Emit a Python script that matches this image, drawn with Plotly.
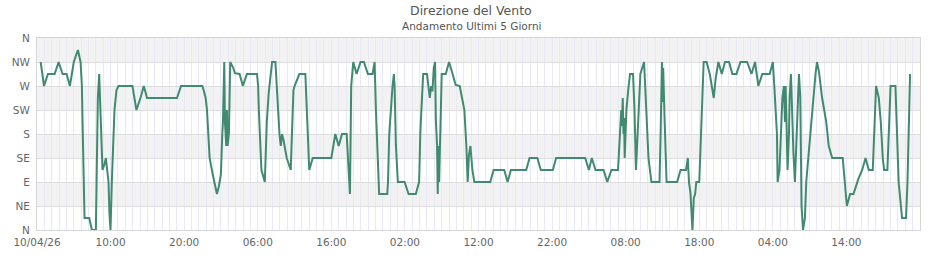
import pandas as pd
import plotly.graph_objects as go

# ---- data (hours since 10/04/26 00:00, wind direction in degrees) ----
ore = [
    0.50, 0.95, 1.49, 2.40, 2.94, 3.48, 4.02, 4.47, 5.00, 5.56, 5.92, 6.10, 6.19, 6.28, 6.37, 6.46,
    7.10, 7.46, 8.00, 8.09, 8.27, 8.45, 8.63, 8.81, 8.90, 9.18, 9.36, 9.54, 9.72, 9.85, 9.99,
    10.17, 10.40, 10.53, 10.80, 11.07, 12.97, 13.51, 14.06, 14.51, 14.96, 19.03, 19.57, 22.47,
    22.65, 22.92, 23.10, 23.28, 23.46, 23.90, 24.45, 24.72, 24.99, 25.18, 25.27, 25.45, 25.54,
    25.72, 25.81, 25.90, 26.08, 26.26, 26.67, 26.90, 27.53, 27.98, 28.52, 29.90, 30.05, 30.15,
    30.30, 30.50, 30.96, 31.23, 31.50, 31.77, 31.95, 32.40, 32.70, 32.95, 33.13, 33.30, 33.50,
    33.94, 34.48, 34.66, 34.85, 35.00, 35.66, 36.47, 36.65, 36.83, 37.00, 37.47, 40.00, 40.27,
    40.54, 41.00, 41.45, 42.08, 42.35, 42.53, 42.70, 42.98, 43.43, 43.97, 44.43, 44.97, 45.60,
    45.88, 46.06, 46.24, 46.42, 46.50, 47.60, 47.70, 47.87, 48.05, 48.32, 48.50, 48.60, 48.77,
    49.04, 49.95, 50.50, 51.48, 51.93, 52.10, 52.30, 52.48, 53.00, 53.38, 53.56, 53.74, 53.92,
    54.10, 54.20, 54.37, 54.46, 54.55, 54.65, 54.83, 55.00, 55.55, 55.73, 56.00, 56.37, 56.90,
    57.45, 57.72, 58.08, 58.35, 58.53, 58.70, 58.90, 59.17, 59.43, 61.60, 62.05, 63.50, 63.95,
    64.40, 66.48, 66.94, 68.00, 68.47, 70.10, 70.55, 74.50, 75.00, 75.40, 75.90, 77.00, 77.50,
    78.06, 78.96, 79.20, 79.40, 79.50, 79.60, 79.70, 79.78, 79.87, 80.10, 80.40, 80.60, 81.00,
    81.20, 81.40, 81.60, 81.85, 82.00, 82.50, 82.85, 83.10, 83.50, 84.60, 84.75, 84.93, 85.00,
    85.10, 85.30, 85.56, 87.00, 87.46, 88.20, 88.45, 88.60, 88.80, 89.08, 89.26, 89.44, 89.60,
    90.00, 90.10, 90.25, 90.44, 90.60, 91.00, 91.43, 91.97, 92.24, 92.60, 93.06, 93.50, 94.05,
    94.50, 95.05, 95.60, 96.50, 97.10, 97.58, 98.03, 98.57, 99.57, 100.00, 100.20, 100.56,
    100.65, 100.90, 101.10, 101.30, 101.50, 101.65, 101.74, 101.90, 102.00, 102.20, 102.28,
    102.46, 102.64, 102.80, 103.00, 103.20, 103.36, 103.55, 103.73, 103.90, 104.10, 104.36,
    104.54, 104.80, 105.10, 105.36, 105.54, 105.80, 106.00, 106.26, 106.70, 107.26, 107.60,
    108.07, 109.50, 109.80, 110.06, 110.50, 110.96, 111.60, 112.14, 112.60, 113.04, 113.58,
    113.76, 114.03, 114.40, 114.67, 114.94, 115.12, 115.57, 115.75, 116.00, 116.66, 116.84,
    117.10, 117.56, 118.10, 118.30, 118.47, 118.65,
]
direzione_gradi = [
    315, 270, 292.5, 292.5, 315, 292.5, 292.5, 270, 315, 337.5, 315, 270, 202.5, 135, 67.5, 22.5,
    22.5, 0, 0, 112.5, 247.5, 292.5, 202.5, 135, 112.5, 123.75, 135, 112.5, 90, 30, 0,
    90, 170, 225, 262, 270, 270, 225, 247.5, 270, 247.5, 247.5, 270, 270,
    262, 247.5, 225, 180, 135, 103, 67.5, 82, 104, 180, 202.5, 315, 202.5,
    157.5, 225, 157.5, 180, 315, 304, 294, 292.5, 270, 292.5, 292.5, 270, 225,
    180, 112.5, 90, 202.5, 258.75, 292.5, 315, 315, 225, 180, 157.5, 180, 168.75,
    135, 112.5, 180, 262, 270, 292.5, 292.5, 225, 157.5, 112.5, 135, 135, 157.5,
    180, 157.5, 180, 180, 112.5, 67.5, 270, 315, 292.5, 315, 315, 292.5, 292.5,
    315, 225, 157.5, 90, 67.5, 67.5, 90, 180, 225, 270, 292.5, 270, 160,
    90, 90, 67.5, 67.5, 90, 185, 258.75, 292.5, 292.5, 247.5, 270, 260, 304,
    315, 210, 157.5, 67.5, 157.5, 90, 202.5, 292.5, 292.5, 304, 315, 297.5, 272,
    270, 247.5, 225, 157.5, 90, 140, 157.5, 112.5, 90, 90, 112.5, 112.5, 90,
    112.5, 112.5, 135, 135, 112.5, 112.5, 135, 135, 112.5, 135, 112.5, 112.5, 90,
    112.5, 112.5, 180, 225, 195, 247.5, 180, 210, 135, 225, 270, 292.5, 292.5,
    225, 112.5, 180, 270, 292.5, 315, 225, 135, 90, 90, 180, 315, 240,
    304, 202.5, 90, 90, 112.5, 112.5, 135, 90, 70, 0, 60, 67.5, 90,
    90, 135, 180, 270, 315, 315, 292.5, 247.5, 285, 315, 292.5, 315, 315,
    292.5, 292.5, 315, 315, 292.5, 315, 270, 292.5, 292.5, 315, 270, 180,
    90, 112.5, 180, 247.5, 270, 202.5, 270, 140, 112.5, 185, 247.5,
    292.5, 202.5, 145, 90, 180, 247.5, 292.5, 250, 45, 0, 22.5,
    90, 135, 180, 225, 247.5, 292.5, 315, 297.5, 247.5, 202.5, 157.5,
    135, 135, 90, 45, 67.5, 67.5, 95, 112.5, 135, 112.5, 112.5,
    180, 270, 247.5, 202.5, 135, 112.5, 112.5, 180, 270, 270, 180,
    90, 22.5, 22.5, 90, 202.5, 292.5,
]
inizio = "2026-04-10 00:00"
ore_totali = 120
punti_cardinali_gradi = [0, 45, 90, 135, 180, 225, 270, 315, 360]
punti_cardinali = ["N", "NE", "E", "SE", "S", "SW", "W", "NW", "N"]
etichette_ore = [0, 10, 20, 30, 40, 50, 60, 70, 80, 90, 100, 110]
etichette_testo = ["10/04/26", "10:00", "20:00", "06:00", "16:00", "02:00",
                   "12:00", "22:00", "08:00", "18:00", "04:00", "14:00"]
fasce_grigie = [(315, 360), (225, 270), (135, 180), (45, 90)]

t0 = pd.Timestamp(inizio)
x = [t0 + pd.Timedelta(hours=h) for h in ore]
tickvals = [t0 + pd.Timedelta(hours=h) for h in etichette_ore]
t_end = t0 + pd.Timedelta(hours=ore_totali)

FONT = "DejaVu Sans"
LINE = "#418a70"

fig = go.Figure()
fig.add_trace(go.Scatter(
    x=x, y=direzione_gradi, mode="lines",
    line=dict(color=LINE, width=2), hoverinfo="skip", showlegend=False,
))

for y0, y1 in fasce_grigie:
    fig.add_shape(type="rect", xref="paper", yref="y", x0=0, x1=1, y0=y0, y1=y1,
                  fillcolor="#f2f2f2", line=dict(width=0), layer="below")

fig.update_layout(
    width=940, height=260,
    margin=dict(l=35, r=20, t=38, b=30),
    paper_bgcolor="white", plot_bgcolor="white",
    font=dict(family=FONT, size=10.5, color="#666666"),
    showlegend=False,
    annotations=[
        dict(text="Direzione del Vento", xref="paper", yref="paper",
             x=(470 - 35) / 885, y=1 + 28 / 192, xanchor="center", yanchor="middle",
             showarrow=False, font=dict(family=FONT, size=12.5, color="#555555")),
        dict(text="Andamento Ultimi 5 Giorni", xref="paper", yref="paper",
             x=(470 - 35) / 885, y=1 + 12 / 192, xanchor="center", yanchor="middle",
             showarrow=False, font=dict(family=FONT, size=10.5, color="#555555")),
    ],
)
fig.update_xaxes(
    type="date", range=[t0, t_end],
    tickmode="array", tickvals=tickvals, ticktext=etichette_testo,
    showgrid=True, gridcolor="#e8e8f8", gridwidth=1,
    minor=dict(dtick=3600000, showgrid=True, gridcolor="#e8e8f8", gridwidth=1),
    showline=True, linecolor="#d6d6d6", linewidth=1, mirror=True,
    ticks="", zeroline=False, fixedrange=True, ticklabelstandoff=2,
)
fig.update_yaxes(
    range=[0, 360], tickmode="array", tickvals=punti_cardinali_gradi, ticktext=punti_cardinali,
    showgrid=True, gridcolor="#dcdcdc", gridwidth=1,
    showline=True, linecolor="#d6d6d6", linewidth=1, mirror=True,
    ticks="", zeroline=False, fixedrange=True, ticklabelstandoff=4,
)

fig.write_html("out.html")
